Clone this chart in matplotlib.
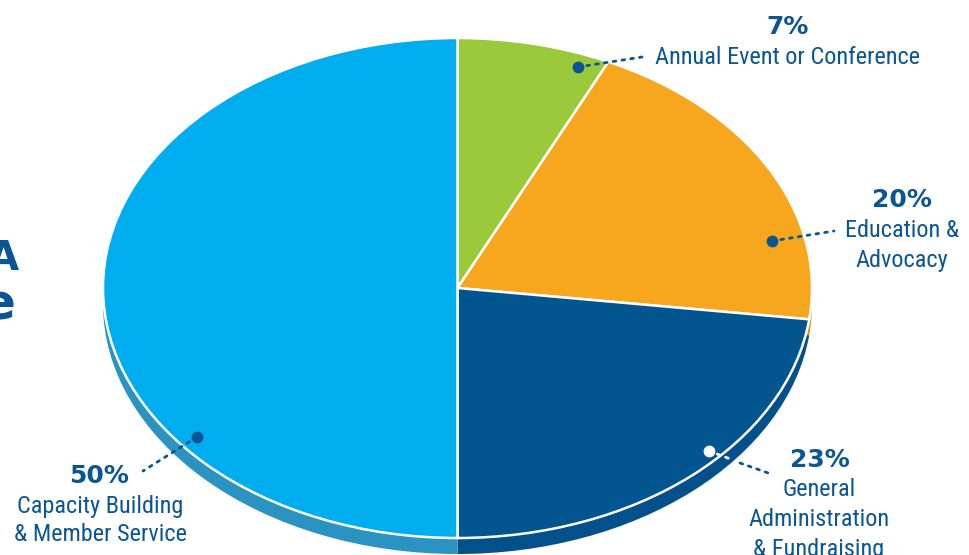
import matplotlib
matplotlib.use("Agg")
import matplotlib.pyplot as plt
from matplotlib.lines import Line2D
from matplotlib import font_manager

# ---- data ----
categories = ["Annual Event or Conference", "Education & Advocacy",
              "General Administration & Fundraising",
              "Capacity Building & Member Service"]
values = [7, 20, 23, 50]
pct_labels = ["7%", "20%", "23%", "50%"]
name_labels = ["Annual Event or Conference", "Education &\nAdvocacy",
               "General\nAdministration\n& Fundraising",
               "Capacity Building\n& Member Service"]

top_colors = ["#9BC93C", "#F7A71D", "#03558F", "#00AEEF"]
side_colors = ["#84AD30", "#D98F14", "#03508A", "#2B93C2"]
TXT = "#0A5594"

# pick a condensed font if one is installed
fl = font_manager.fontManager.ttflist
names = {f.name for f in fl}
lab_family, lab_stretch = "Roboto", "normal"
for nm in ["Roboto Condensed", "Liberation Sans Narrow", "Noto Sans Condensed",
           "Open Sans Condensed", "DejaVu Sans Condensed"]:
    if nm in names:
        lab_family, lab_stretch = nm, "normal"
        break
else:
    for nm in ["Roboto", "Noto Sans", "DejaVu Sans", "Open Sans"]:
        if any(f.name == nm and f.stretch in ("condensed", "semi-condensed", 500, 300, 400)
               and f.stretch != "normal" and f.stretch != 500 for f in fl):
            lab_family, lab_stretch = nm, "condensed"
            break

W, H = 970, 555
fig = plt.figure(figsize=(W / 100, H / 100), dpi=100)
fig.patch.set_facecolor("white")
ax = fig.add_axes([0, 0, 1, 1])

# pie geometry in pixels
cx, cy, rx, ry, depth = 457.5, 288.0, 354.5, 250.0, 16.0

ax.pie(values, colors=side_colors, startangle=90, counterclock=False,
       center=(0, -depth / ry), wedgeprops=dict(edgecolor="none", linewidth=0))
ax.pie(values, colors=top_colors, startangle=90, counterclock=False,
       wedgeprops=dict(edgecolor="white", linewidth=1.8))
ax.set_aspect("auto")
ax.set_xlim(-cx / rx, (W - cx) / rx)
ax.set_ylim((cy - H) / ry, cy / ry)
ax.axis("off")


def P(px, py):
    return (px / W, 1 - py / H)


def leader(pts, color):
    xs = [P(*p)[0] for p in pts]
    ys = [P(*p)[1] for p in pts]
    fig.add_artist(Line2D(xs, ys, transform=fig.transFigure, color=color,
                          lw=2.0, linestyle=(0, (1, 2.2)),
                          dash_capstyle="round"))


def dot(px, py, color):
    x, y = P(px, py)
    fig.add_artist(Line2D([x], [y], transform=fig.transFigure, marker="o",
                          markersize=8.5, color=color, markeredgewidth=0))


# fit label font size so the widest label matches the reference width
renderer = fig.canvas.get_renderer()
probe = fig.text(0, 0, name_labels[0], family=[lab_family, "DejaVu Sans"],
                 fontstretch=lab_stretch, fontsize=16)
wpx = probe.get_window_extent(renderer).width
probe.remove()
lab_size = min(17.5, 16 * 268.0 / wpx)

pct_font = dict(family=["DejaVu Sans"], fontweight="bold", fontsize=18, color=TXT)
lab_font = dict(family=[lab_family, "DejaVu Sans"], fontstretch=lab_stretch,
                fontsize=lab_size, color=TXT)

# 7%
leader([(578, 67), (642, 57)], TXT)
dot(578, 67, TXT)
fig.text(*P(788, 34), pct_labels[0], ha="center", va="baseline", **pct_font)
fig.text(*P(788, 64.5), name_labels[0], ha="center", va="baseline", **lab_font)

# 20%
leader([(772, 241), (834, 231)], TXT)
dot(772, 241, TXT)
fig.text(*P(902, 207), pct_labels[1], ha="center", va="baseline", **pct_font)
for i, line in enumerate(name_labels[1].split("\n")):
    fig.text(*P(902, 237 + 30 * i), line, ha="center", va="baseline", **lab_font)

# 23%
leader([(709, 451), (733, 460)], "white")
leader([(740, 463), (771, 474)], TXT)
dot(709, 451, "white")
fig.text(*P(820, 467), pct_labels[2], ha="center", va="baseline", **pct_font)
for i, line in enumerate(name_labels[2].split("\n")):
    fig.text(*P(819, 496 + 30 * i), line, ha="center", va="baseline", **lab_font)

# 50%
leader([(197, 437), (143, 471)], TXT)
dot(197, 437, TXT)
fig.text(*P(99, 483), pct_labels[3], ha="center", va="baseline", **pct_font)
for i, line in enumerate(name_labels[3].split("\n")):
    fig.text(*P(100, 513 + 28 * i), line, ha="center", va="baseline", **lab_font)

# cropped title fragments at left edge
fig.text(*P(19, 270), "A", ha="right", va="baseline", family=["DejaVu Sans"],
         fontweight="bold", fontsize=29, color=TXT)
fig.text(*P(16, 320), "e", ha="right", va="baseline", family=["DejaVu Sans"],
         fontweight="bold", fontsize=36, color=TXT)

fig.savefig("out.png", dpi=100, facecolor="white")
